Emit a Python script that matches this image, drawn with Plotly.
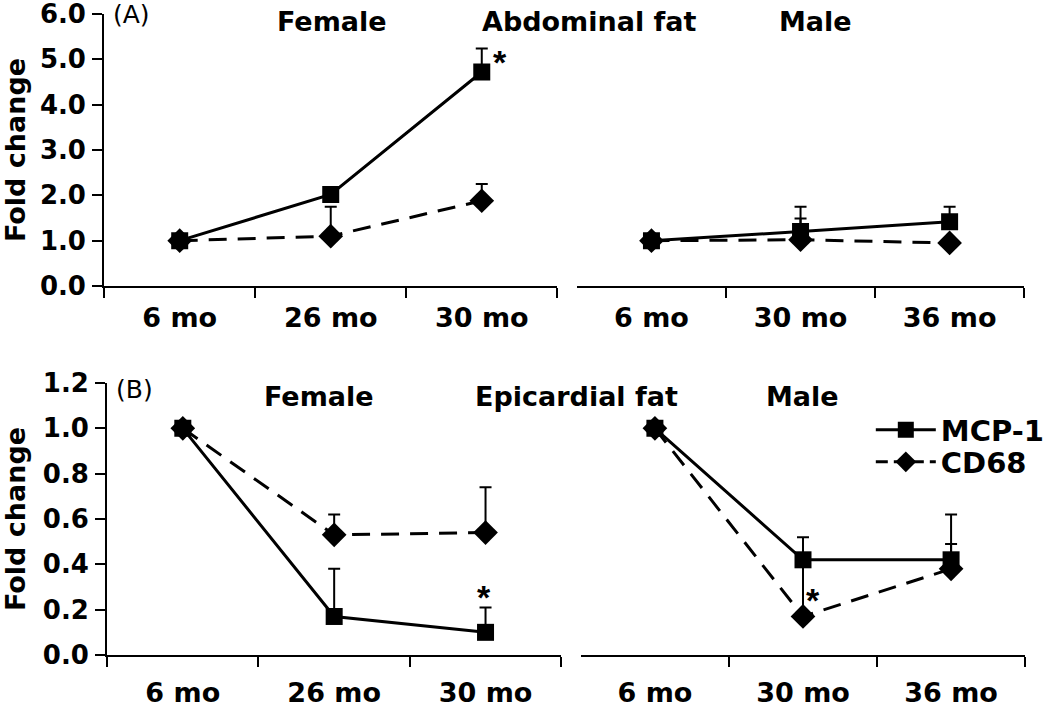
import plotly.graph_objects as go

FONT = "Liberation Sans, Arial, sans-serif"
WIDE = "DejaVu Sans, Liberation Sans, sans-serif"

# x categories
months_female = ["6 mo", "26 mo", "30 mo"]
months_male = ["6 mo", "30 mo", "36 mo"]
xpos = [0, 1, 2]

# (A) abdominal fat
abd_f_mcp1 = [1.0, 2.02, 4.72]
abd_f_mcp1_err = [0, 0, 0.52]
abd_f_cd68 = [1.0, 1.10, 1.88]
abd_f_cd68_err = [0, 0.65, 0.37]
abd_m_mcp1 = [1.0, 1.20, 1.42]
abd_m_mcp1_err = [0, 0.55, 0.33]
abd_m_cd68 = [1.0, 1.02, 0.95]
abd_m_cd68_err = [0, 0.47, 0]

# (B) epicardial fat
epi_f_mcp1 = [1.0, 0.17, 0.10]
epi_f_mcp1_err = [0, 0.21, 0.11]
epi_f_cd68 = [1.0, 0.53, 0.54]
epi_f_cd68_err = [0, 0.09, 0.20]
epi_m_mcp1 = [1.0, 0.42, 0.42]
epi_m_mcp1_err = [0, 0.10, 0.20]
epi_m_cd68 = [1.0, 0.17, 0.38]
epi_m_cd68_err = [0, 0.25, 0.11]

W, H = 1050, 707


def px_x(p):
    return p / W


def px_y(p):
    return 1 - p / H


fig = go.Figure()
DASH = "18px,11px"


def add_pair(mcp, mcp_err, cd, cd_err, xa, ya, legend):
    err_style = dict(type="data", symmetric=False, color="black", thickness=2, width=6)
    fig.add_trace(go.Scatter(
        x=xpos, y=cd, xaxis=xa, yaxis=ya, mode="lines+markers", name="CD68",
        line=dict(color="black", width=3, dash=DASH),
        marker=dict(symbol="diamond", size=19, color="black"),
        error_y=dict(array=cd_err, arrayminus=[0] * 3, **err_style),
        showlegend=False,
    ))
    fig.add_trace(go.Scatter(
        x=xpos, y=mcp, xaxis=xa, yaxis=ya, mode="lines+markers", name="MCP-1",
        line=dict(color="black", width=3),
        marker=dict(symbol="square", size=17, color="black"),
        error_y=dict(array=mcp_err, arrayminus=[0] * 3, **err_style),
        showlegend=legend, legend="legend",
    ))
    if legend:
        fig.add_trace(go.Scatter(
            x=[None], y=[None], xaxis=xa, yaxis=ya, mode="lines+markers", name="CD68",
            line=dict(color="black", width=3, dash="12px,6px"),
            marker=dict(symbol="diamond", size=19, color="black"),
            legend="legend2",
        ))


add_pair(abd_f_mcp1, abd_f_mcp1_err, abd_f_cd68, abd_f_cd68_err, "x", "y", False)
add_pair(abd_m_mcp1, abd_m_mcp1_err, abd_m_cd68, abd_m_cd68_err, "x2", "y2", False)
add_pair(epi_f_mcp1, epi_f_mcp1_err, epi_f_cd68, epi_f_cd68_err, "x3", "y3", False)
add_pair(epi_m_mcp1, epi_m_mcp1_err, epi_m_cd68, epi_m_cd68_err, "x4", "y4", True)

tickfont = dict(family=WIDE, size=27, color="black", weight="bold")


def xaxis(dom, labels, anchor, left_tick, standoff):
    minor_vals = [-0.5, 0.5, 1.5, 2.5] if left_tick else [0.5, 1.5, 2.5]
    return dict(
        domain=dom, anchor=anchor, range=[-0.5, 2.5], automargin=False,
        tickmode="array", tickvals=xpos, ticktext=labels, ticks="",
        tickfont=tickfont, showgrid=False, zeroline=False, ticklabelstandoff=standoff,
        ticklabeloverflow="allow",
        showline=True, linecolor="black", linewidth=2,
        minor=dict(tickmode="array", tickvals=minor_vals, ticks="outside",
                   ticklen=10, tickwidth=2, tickcolor="black", showgrid=False),
        fixedrange=True,
    )


def yaxis_left(dom, rng, dtick, anchor):
    return dict(
        domain=dom, anchor=anchor, range=rng, tickmode="linear", tick0=0, dtick=dtick,
        automargin=False, ticklabeloverflow="allow", fixedrange=True,
        tickformat=".1f", ticks="outside", ticklen=10, tickwidth=2, tickcolor="black",
        tickfont=dict(family=WIDE, size=26, color="black", weight="bold"),
        ticklabelstandoff=1,
        showline=True, linecolor="black", linewidth=2, showgrid=False, zeroline=False,
        title=dict(text="Fold change", standoff=10,
                   font=dict(family=WIDE, size=27, color="black", weight="bold")),
    )


def yaxis_hidden(dom, rng, anchor):
    return dict(domain=dom, anchor=anchor, range=rng, visible=False, showgrid=False,
                automargin=False, fixedrange=True)


top_dom = [px_y(286), px_y(14)]
bot_dom = [px_y(655), px_y(383)]

legend_style = dict(xanchor="left", yanchor="middle", bgcolor="rgba(0,0,0,0)",
                    font=dict(family=WIDE, size=29, color="black", weight="bold"),
                    itemwidth=60)

fig.update_layout(
    width=W, height=H,
    margin=dict(l=0, r=0, t=0, b=0),
    paper_bgcolor="white", plot_bgcolor="white",
    font=dict(family=FONT, color="black"),
    xaxis=xaxis([px_x(106), px_x(567)], months_female, "y", True, 7),
    xaxis2=xaxis([px_x(587), px_x(1042)], months_male, "y2", False, 7),
    xaxis3=xaxis([px_x(109), px_x(571)], months_female, "y3", True, 13),
    xaxis4=xaxis([px_x(591), px_x(1043)], months_male, "y4", False, 13),
    yaxis=yaxis_left(top_dom, [0, 6], 1, "x"),
    yaxis2=yaxis_hidden(top_dom, [0, 6], "x2"),
    yaxis3=yaxis_left(bot_dom, [0, 1.2], 0.2, "x3"),
    yaxis4=yaxis_hidden(bot_dom, [0, 1.2], "x4"),
    legend=dict(x=px_x(886), y=px_y(430), **legend_style),
    legend2=dict(x=px_x(886), y=px_y(462), **legend_style),
    showlegend=True,
)

ann_font = dict(family=WIDE, size=27, color="black", weight="bold")
plain_font = dict(family=WIDE, size=25, color="black")
labels = [
    ("(A)", 113, 15, plain_font, "left"),
    ("Female", 338, 22, ann_font, "center"),
    ("Abdominal fat", 600, 22, ann_font, "center"),
    ("Male", 830, 22, ann_font, "center"),
    ("(B)", 116, 389, plain_font, "left"),
    ("Female", 325, 397, ann_font, "center"),
    ("Epicardial fat", 587, 397, ann_font, "center"),
    ("Male", 816, 397, ann_font, "center"),
]
for text, xp, yp, f, anc in labels:
    fig.add_annotation(text=text, x=px_x(xp), y=px_y(yp), xref="paper", yref="paper",
                       xanchor=anc, yanchor="middle", showarrow=False, font=f)

# significance markers: (axis pair, category index, glyph-centre value, x shift)
star_font = dict(family=FONT, size=34, color="black", weight="bold")
stars = [
    ("x", "y", 2, 5.05, 18),
    ("x3", "y3", 2, 0.278, -2),
    ("x4", "y4", 1, 0.265, 10),
]
for xa, ya, xv, yv, xs in stars:
    fig.add_annotation(text="*", x=xv, y=yv, xref=xa, yref=ya, xshift=xs, yshift=-26,
                       xanchor="center", yanchor="bottom", showarrow=False,
                       font=star_font)

# the page's default body margin would push the 1050x707 figure out of the window
fig.write_html("out.html", config={"displayModeBar": False},
               post_script="document.body.style.margin='0px';")
